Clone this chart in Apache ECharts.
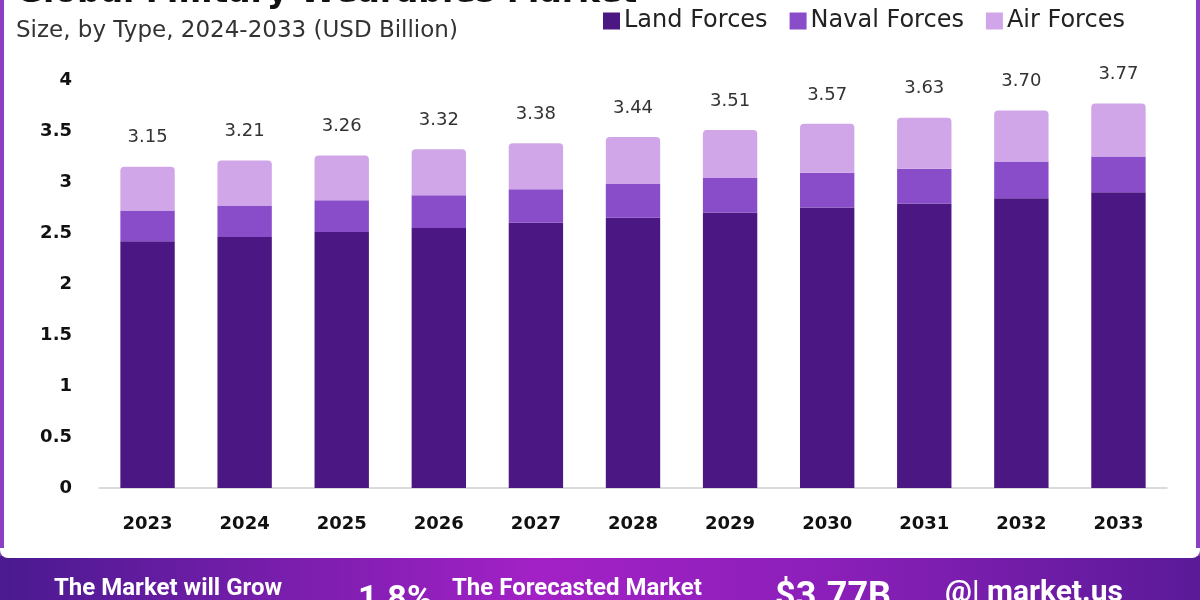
<!DOCTYPE html>
<html>
<head>
<meta charset="utf-8">
<script src="https://cdn.jsdelivr.net/npm/echarts@6/dist/echarts.min.js"></script>
<style>
html,body{margin:0;padding:0;background:#fff;}
#chart{width:1200px;height:600px;}
</style>
</head>
<body>
<div id="chart"></div>
<script>
const years = ['2023','2024','2025','2026','2027','2028','2029','2030','2031','2032','2033'];
const landForces  = [2.42, 2.46, 2.51, 2.55, 2.60, 2.65, 2.70, 2.75, 2.79, 2.84, 2.90];
const navalForces = [0.30, 0.31, 0.31, 0.32, 0.33, 0.33, 0.34, 0.34, 0.34, 0.36, 0.35];
const airForces   = [0.43, 0.44, 0.44, 0.45, 0.45, 0.46, 0.47, 0.48, 0.50, 0.50, 0.52];
const totalLabels = ['3.15','3.21','3.26','3.32','3.38','3.44','3.51','3.57','3.63','3.70','3.77'];
const yTicks = [0, 0.5, 1, 1.5, 2, 2.5, 3, 3.5, 4];

const FONT = 'DejaVu Sans';
const chart = echarts.init(document.getElementById('chart'), null, {renderer:'canvas'});

chart.setOption({
  animation: false,
  backgroundColor: '#ffffff',
  grid: {left: 99, right: 33, top: 80, bottom: 112, containLabel: false},
  legend: {
    left: 598, top: 4,
    itemWidth: 17, itemHeight: 17, itemGap: 22,
    icon: 'rect',
    textStyle: {fontFamily: FONT, fontSize: 24, color: '#222', padding: [0,0,0,-1]},
    data: ['Land Forces','Naval Forces','Air Forces']
  },
  xAxis: {
    type: 'category',
    data: years,
    axisLine: {show: true, lineStyle: {color: '#cfcfcf', width: 1.5}},
    axisTick: {show: false},
    axisLabel: {fontFamily: FONT, fontWeight: 'bold', fontSize: 18, color: '#111', margin: 27}
  },
  yAxis: {
    type: 'value',
    min: yTicks[0], max: yTicks[yTicks.length-1], interval: 0.5,
    axisLine: {show: false},
    axisTick: {show: false},
    splitLine: {show: false},
    axisLabel: {fontFamily: FONT, fontWeight: 'bold', fontSize: 18, color: '#111', margin: 27,
      formatter: v => yTicks.includes(v) ? String(v) : ''}
  },
  series: [
    {name: 'Land Forces', type: 'bar', stack: 'total', barWidth: '56%',
     itemStyle: {color: '#4b1782'}, data: landForces},
    {name: 'Naval Forces', type: 'bar', stack: 'total',
     itemStyle: {color: '#8a4dca'}, data: navalForces},
    {name: 'Air Forces', type: 'bar', stack: 'total',
     itemStyle: {color: '#d0a6e9', borderRadius: [4,4,0,0]}, data: airForces,
     label: {show: true, position: 'top', distance: 20,
       fontFamily: FONT, fontSize: 18, color: '#333',
       formatter: p => totalLabels[p.dataIndex]}}
  ],
  graphic: [
    {type: 'rect', left: 0, top: 0, shape: {width: 4, height: 560}, style: {fill: '#8a3fc0'}},
    {type: 'rect', left: 1196, top: 0, shape: {width: 4, height: 560}, style: {fill: '#8a3fc0'}},
    {type: 'text', left: 16, top: -23,
     style: {text: 'Global Military Wearables Market', fontFamily: FONT, fontWeight: 'bold', fontSize: 33, fill: '#111'}},
    {type: 'text', left: 16, top: 20,
     style: {text: 'Size, by Type, 2024-2033 (USD Billion)', fontFamily: FONT, fontSize: 23, fill: '#333'}},
    {type: 'rect', left: 0, top: 556, shape: {width: 1200, height: 44},
     style: {fill: new echarts.graphic.LinearGradient(0,0,1,0,[
       {offset:0, color:'#4a1a90'},{offset:0.45, color:'#a321c6'},{offset:0.7, color:'#8a1fb8'},{offset:1, color:'#5a1a98'}])}},
    {type: 'rect', left: 0, top: 548, shape: {width: 1200, height: 10, r: [0,0,8,8]}, style: {fill: '#ffffff'}, z: 10},
    {type: 'text', left: 54, top: 577, z: 20,
     style: {text: 'The Market will Grow', fontFamily: 'Roboto', fontWeight: 'bold', fontSize: 24, fill: '#fff'}},
    {type: 'text', left: 358, top: 583, z: 20,
     style: {text: '1.8%', fontFamily: 'Roboto', fontWeight: 'bold', fontSize: 34, fill: '#fff'}},
    {type: 'text', left: 452, top: 577, z: 20,
     style: {text: 'The Forecasted Market', fontFamily: 'Roboto', fontWeight: 'bold', fontSize: 24, fill: '#fff'}},
    {type: 'text', left: 775, top: 580, z: 20,
     style: {text: '$3.77B', fontFamily: 'Roboto', fontWeight: 'bold', fontSize: 36, fill: '#fff'}},
    {type: 'text', left: 945, top: 578, z: 20,
     style: {text: '@| market.us', fontFamily: 'Roboto', fontWeight: 'bold', fontSize: 30, fill: '#fff'}}
  ]
});
</script>
</body>
</html>
